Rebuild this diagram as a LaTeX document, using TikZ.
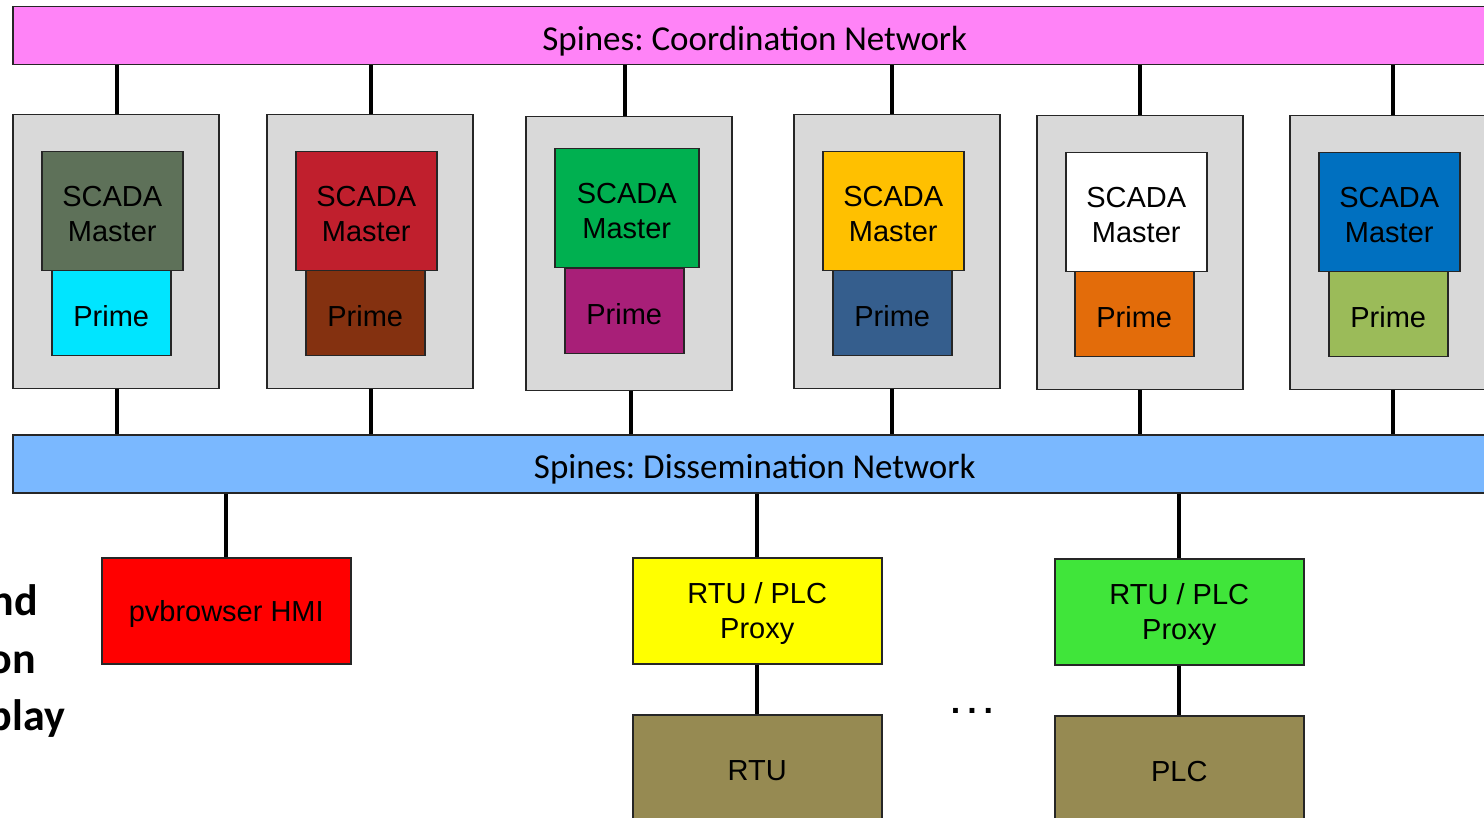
\documentclass[tikz,border=0pt]{standalone}
\usepackage{fontspec}
\setmainfont{Liberation Sans}
\newfontfamily\calib{Carlito}
\newcommand\lowr[1]{\raisebox{-3pt}[\height][\depth]{#1}}
\newcommand\lowb[1]{\raisebox{-5pt}[\height][\depth]{#1}}
\frenchspacing
\begin{document}
\begin{tikzpicture}[x=1pt,y=-1pt,
  bx/.style={draw=black!85, line width=1.5pt, inner sep=0pt, anchor=north west, align=center,
    font=\fontsize{29}{35}\selectfont},
  bar/.style={bx, minimum width=1484pt, minimum height=58pt, font=\calib\fontsize{35}{40}\selectfont},
  host/.style={bx, fill=hostgray, minimum width=206pt, minimum height=274pt},
  master/.style={bx, minimum width=141pt, minimum height=119pt},
  prime/.style={bx, minimum width=119pt, minimum height=85pt},
  dev/.style={bx, minimum width=249pt, minimum height=106pt},
  conn/.style={line width=4pt, black},
  side/.style={font=\calib\bfseries\fontsize{44}{50}\selectfont, anchor=base east, inner sep=0pt}]
\definecolor{hostgray}{HTML}{D9D9D9}
\definecolor{coordpink}{HTML}{FF83F7}
\definecolor{dissblue}{HTML}{7AB8FF}
\definecolor{mA}{HTML}{5E7159}\definecolor{pA}{HTML}{00E5FF}
\definecolor{mB}{HTML}{C01F2D}\definecolor{pB}{HTML}{843110}
\definecolor{mC}{HTML}{00B050}\definecolor{pC}{HTML}{A81F78}
\definecolor{mD}{HTML}{FFC000}\definecolor{pD}{HTML}{355E8D}
\definecolor{mE}{HTML}{FFFFFF}\definecolor{pE}{HTML}{E36C0A}
\definecolor{mF}{HTML}{0070C0}\definecolor{pF}{HTML}{9BBB59}
\definecolor{proxyY}{HTML}{FFFF00}
\definecolor{proxyG}{HTML}{40E53A}
\definecolor{hmired}{HTML}{FF0000}
\definecolor{field}{HTML}{968A52}
\useasboundingbox (0,0) rectangle (1484,818);
\clip (0,0) rectangle (1484,818);

% networks
\node[bar, fill=coordpink] (coord) at (12,6) {\lowb{Spines: Coordination Network}};
\node[bar, fill=dissblue] (diss) at (12,434) {\lowb{Spines: Dissemination Network}};

% replicas
\node[host] (g1) at (12,114) {};
\node[host] (g2) at (266,114) {};
\node[host] (g3) at (525,116) {};
\node[host] (g4) at (793,114) {};
\node[host] (g5) at (1036,115) {};
\node[host] (g6) at (1289,115) {};

\node[prime, fill=pA] (p1) at (51,270) {\lowr{Prime}};
\node[prime, fill=pB] (p2) at (305,270) {\lowr{Prime}};
\node[prime, fill=pC] (p3) at (564,268) {\lowr{Prime}};
\node[prime, fill=pD] (p4) at (832,270) {\lowr{Prime}};
\node[prime, fill=pE] (p5) at (1074,271) {\lowr{Prime}};
\node[prime, fill=pF] (p6) at (1328,271) {\lowr{Prime}};

\node[master, fill=mA] (m1) at (41,151) {\lowr{SCADA}\\\lowr{Master}};
\node[master, fill=mB] (m2) at (295,151) {\lowr{SCADA}\\\lowr{Master}};
\node[master, fill=mC, minimum width=144pt] (m3) at (554,148) {\lowr{SCADA}\\\lowr{Master}};
\node[master, fill=mD] (m4) at (822,151) {\lowr{SCADA}\\\lowr{Master}};
\node[master, fill=mE] (m5) at (1065,152) {\lowr{SCADA}\\\lowr{Master}};
\node[master, fill=mF] (m6) at (1318,152) {\lowr{SCADA}\\\lowr{Master}};

% replica connectors
\foreach \g/\dt/\db in {g1/1/1, g2/1/1, g3/-4/2, g4/-5/-5, g5/0/0, g6/0/0}{
  \draw[conn] ([xshift=\dt pt]\g.north) -- ([xshift=\dt pt]\g.north |- coord.south);
  \draw[conn] ([xshift=\db pt]\g.south) -- ([xshift=\db pt]\g.south |- diss.north);
}

% field side
\node[dev, fill=hmired] (hmi) at (101,557) {\lowr{pvbrowser HMI}};
\node[dev, fill=proxyY] (px1) at (632,557) {\lowr{RTU / PLC}\\\lowr{Proxy}};
\node[dev, fill=proxyG] (px2) at (1054,558) {\lowr{RTU / PLC}\\\lowr{Proxy}};
\node[dev, fill=field] (rtu) at (632,714) {\lowr{RTU}};
\node[dev, fill=field] (plc) at (1054,715) {\lowr{PLC}};

\draw[conn] (hmi.north) -- (hmi.north |- diss.south);
\draw[conn] (px1.north) -- (px1.north |- diss.south);
\draw[conn] (px2.north) -- (px2.north |- diss.south);
\draw[conn] (px1.south) -- (rtu.north);
\draw[conn] (px2.south) -- (plc.north);

\node[font=\fontsize{34}{34}\selectfont\bfseries, inner sep=0pt] (dots) at (972,711) {.\hspace{7pt}.\hspace{7pt}.};

% cut-off side text
\node[side] (t1) at (38,615) {nd};
\node[side] (t2) at (36,673) {on};
\node[side] (t3) at (65,730) {play};
\end{tikzpicture}
\end{document}
